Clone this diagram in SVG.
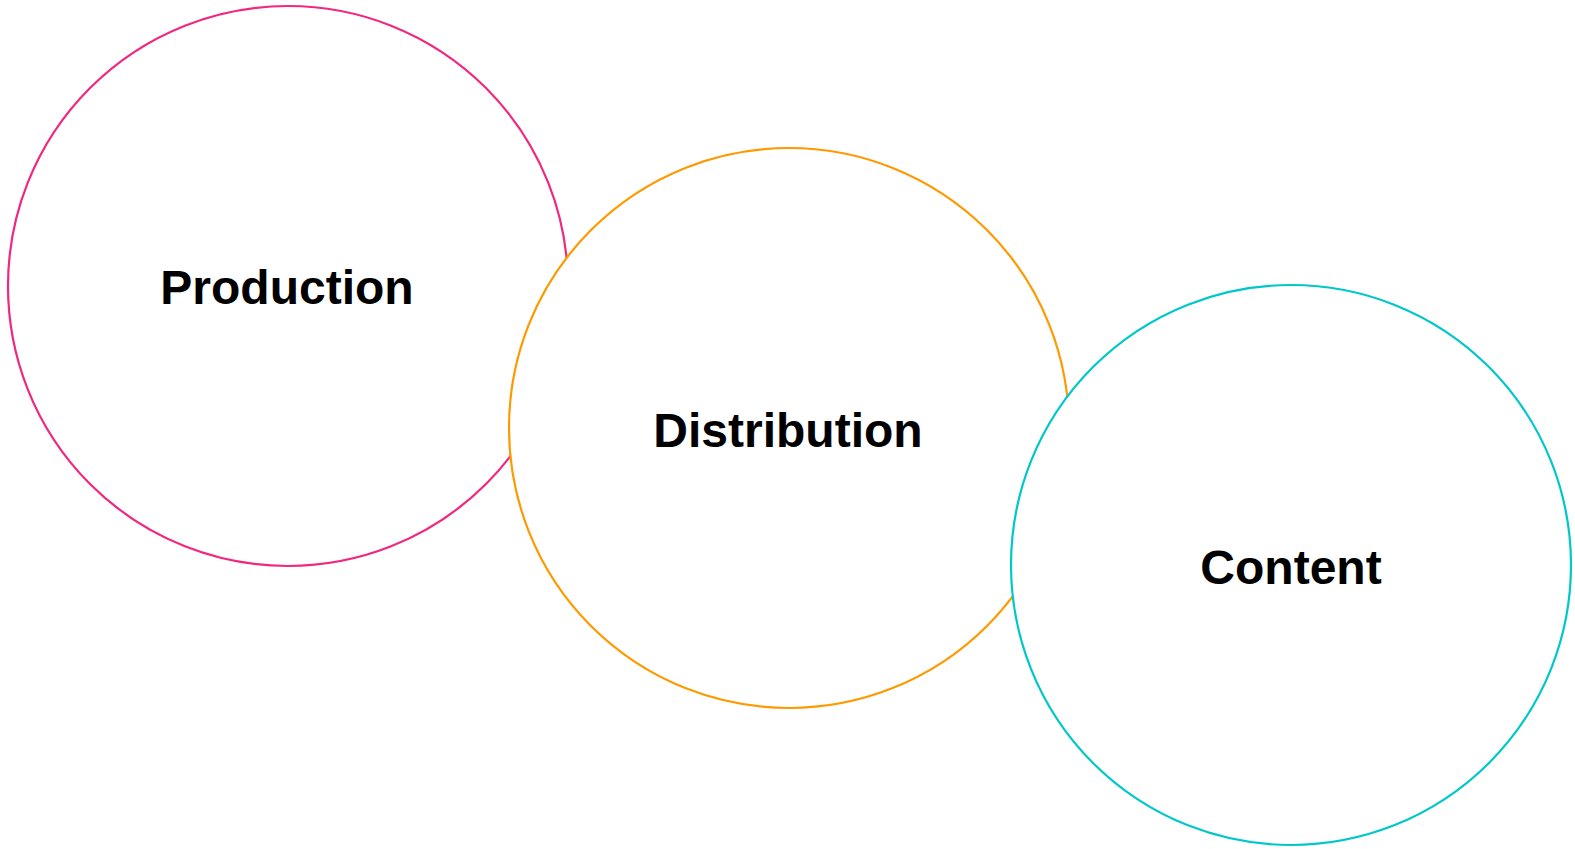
<svg xmlns="http://www.w3.org/2000/svg" width="1575" height="849" viewBox="0 0 1575 849">
<style>
.c{fill:#ffffff;stroke-width:2.2}
.t{font-family:"Liberation Sans",Arial,sans-serif;font-weight:bold;font-size:48px;fill:#000;text-anchor:middle}
</style>
<rect width="1575" height="849" fill="#ffffff"/>
<g id="connectors"></g>
<g id="production">
<circle class="c" cx="288" cy="286" r="280" stroke="#f0287f"/>
<text class="t" x="287" y="304">Production</text>
</g>
<g id="distribution">
<circle class="c" cx="789" cy="428" r="280" stroke="#ff9900"/>
<text class="t" x="788" y="447">Distribution</text>
</g>
<g id="content">
<circle class="c" cx="1291" cy="565" r="280" stroke="#00c8c8"/>
<text class="t" x="1291" y="584">Content</text>
</g>
</svg>
